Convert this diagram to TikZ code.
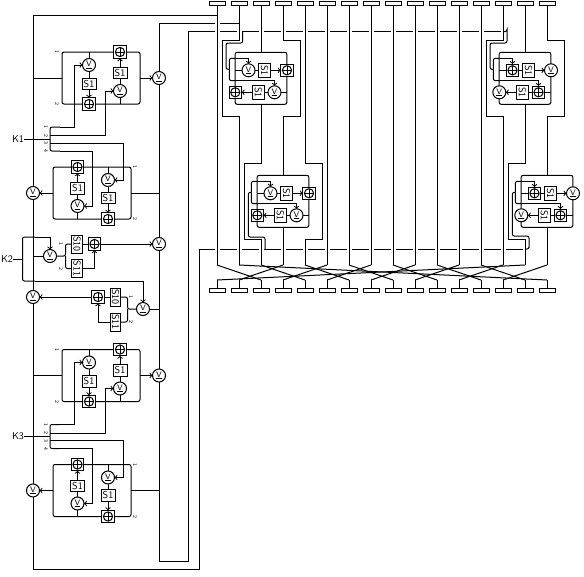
\documentclass[tikz,border=0pt]{standalone}
\usepackage{amsmath}
\usetikzlibrary{positioning}
\tikzset{
    orop/.style={circle,draw,fill=white,minimum size=13pt,inner sep=0pt,outer sep=0pt,
        label={[inner sep=0pt,font=\sffamily\fontsize{8}{8}\selectfont]center:\underline{V}}},
    addbox/.style={draw,fill=white,minimum size=12.5pt,inner sep=0pt,outer sep=0pt,
        path picture={
            \draw (path picture bounding box.center) circle (4.6pt);
            \draw ([xshift=-4.6pt]path picture bounding box.center) -- ([xshift=4.6pt]path picture bounding box.center);
            \draw ([yshift=-4.6pt]path picture bounding box.center) -- ([yshift=4.6pt]path picture bounding box.center);
        }},
    sbox/.style={draw,fill=white,minimum width=14pt,minimum height=11.5pt,inner sep=0pt,outer sep=0pt,
        font=\sffamily\fontsize{10}{10}\selectfont},
    sboxr/.style={sbox,rotate=-90},
    sboxl/.style={sbox,minimum width=18pt,minimum height=10.5pt,rotate=-90},
    railbox/.style={draw,rounded corners=2pt,inner sep=0pt,outer sep=0pt},
    termbar/.style={draw,fill=white,minimum width=16pt,minimum height=3.5pt,inner sep=0pt,outer sep=0pt},
    keytext/.style={inner sep=0pt,font=\sffamily\fontsize{10}{10}\selectfont},
    pintext/.style={inner sep=0pt,rotate=-90,font=\sffamily\fontsize{5.5}{5.5}\selectfont},
    roundwire/.style={rounded corners=2pt},
}
\begin{document}
\begin{tikzpicture}[x=1pt,y=-1pt,line width=1pt]
    \useasboundingbox (0,0) rectangle (584,576);
    % long trunks, broken where the byte lines cross them
    \coordinate (tr0) at (217,15);
    \coordinate (tr1) at (239,23.5);
    \coordinate (tr2) at (507,31.5);
    \coordinate (tr3) at (529,249);
    \draw (tr0) -| (33,569) -| (199,249) -- (525,249);
    \draw (tr1) -| (159,561.6) -| (188.5,31.5) -- (503,31.5);
    \foreach \i in {0,1,...,13}{\fill[white] (214.5+22*\i,30) rectangle +(5,3);}
    \foreach \i in {0,1,...,14}{\fill[white] (214.5+22*\i,247.5) rectangle +(5,3);}
    \fill[white] (214.5,22) rectangle +(5,3);

    \foreach \i in {0,1,...,15}{
        \node[termbar] (t\i) at (217+22*\i,3.5) {};
        \node[termbar] (b\i) at (217+22*\i,290.5) {};
        \coordinate (m\i) at (217+22*\i,265);
        \coordinate (n\i) at (217+22*\i,280);
        \draw (n\i) -- (b\i.north);
    }
    \foreach \i in {5,...,12}{\draw (t\i.south) -- (m\i);}
    \foreach \i/\j in {0/2,2/4,4/6,6/8,8/10,10/12,12/14,3/1,5/3,7/5,9/7,11/9,13/11,15/13,1/15,14/0}{
        \draw (m\i) -- (n\j);
    }

    % small round functions among the byte lines
    \foreach \n/\cx/\cy/\fa/\fb in {a/261/52.3/orop/addbox,b/283/175.3/orop/addbox,c/525/52.3/addbox/orop,d/547/175.3/addbox/orop}{
        \node[railbox,minimum width=51.7pt,minimum height=52pt] (\n rail) at (\cx,\cy+26) {};
        \coordinate (\n br) at (\cx-31.7,\cy+17);
        \coordinate (\n ka) at (\cx-24,\cy+6);
        \coordinate (\n kb) at (\cx-24,\cy+28.4);
        \node[\fa] (\n ga) at (\cx-12.5,\cy+18) {};
        \node[sboxr] (\n sa) at (\cx+3.7,\cy+18) {S1};
        \node[\fb] (\n ea) at (\cx+26,\cy+18) {};
        \node[\fa] (\n gb) at (\cx+13.5,\cy+40) {};
        \node[sboxr] (\n sb) at (\cx-2.7,\cy+40) {S1};
        \node[\fb] (\n eb) at (\cx-25.7,\cy+40) {};
        \draw (\n rail.west |- \n ga) -- (\n ga);
        \draw (\n ga) -- (\n sa);
        \draw[->] (\n sa) -- (\n ea);
        \draw (\n rail.east |- \n gb) -- (\n gb);
        \draw (\n gb) -- (\n sb);
        \draw[->] (\n sb) -- (\n eb);
        \draw[roundwire] (\n br) |- (\n ka);
        \draw[roundwire] (\n br) |- (\n kb);
        \draw[->] (\n ka) -| (\n ga.north);
        \draw[->] (\n kb) -| (\n gb.north);
    }

    % routing of the byte lines round them
    \draw (t0.south) -- (m0);
    \draw (t1.south) |- (222.5,40) |- (239,116) -- (m1);
    \draw (t2.south) -- (arail.north);
    \draw (arail.south) |- (244.7,163.3) |- (261,239.3) -- (m2);
    \draw (t3.south) |- (300,40) |- (283,116) -- (brail.north);
    \draw (brail.south) -- (m3);
    \draw (t4.south) |- (322.7,163.3) |- (305,239.3) -- (m4);
    \draw (t13.south) |- (486,40) |- (503,116) -- (m13);
    \draw (t14.south) -- (crail.north);
    \draw (crail.south) |- (508.7,163.3) |- (525,239.3) -- (m14);
    \draw (t15.south) |- (564.7,40) |- (547,116) -- (drail.north);
    \draw (drail.south) -- (m15);

    % key feeds to the small functions
    \draw[roundwire] (242.7,31.5) -- (242.7,43) -- (226,43) |- (abr);
    \draw[roundwire] (265,249) -- (265,237) -- (248.3,237) |- (bbr);
    \draw[roundwire] (503,31.5) -| (tr2) -- (507,43) -- (490,43) |- (cbr);
    \draw[roundwire] (525,249) -| (tr3) -- (529,236) -- (512.3,236) |- (dbr);

    % large rounds on the left
    \foreach \n/\dy/\key in {p/0/K1,q/297.5/K3}{
    \begin{scope}[shift={(0,\dy)}]
        \node[railbox,minimum width=78pt,minimum height=52pt] (\n up) at (101,78) {};
        \node[railbox,minimum width=78pt,minimum height=52pt] (\n lo) at (92,193) {};
        \node[orop] (\n va) at (89,65) {};
        \node[orop] (\n vb) at (120,91) {};
        \node[sbox] (\n sa) at (89,84) {S1};
        \node[sbox] (\n sb) at (120,73) {S1};
        \node[addbox] (\n xa) at (89,104) {};
        \node[addbox] (\n xb) at (120,52) {};
        \node[orop] (\n vr) at (159,78) {};
        \draw (\n va.north) -- (\n va.north |- \n up.north);
        \draw (\n va) -- (\n sa);
        \draw[->] (\n sa) -- (\n xa);
        \draw (\n vb.south) -- (\n vb.south |- \n up.south);
        \draw (\n vb) -- (\n sb);
        \draw[->] (\n sb) -- (\n xb);
        \draw (33,78) -- (\n up.west);
        \draw[->] (\n up.east) -- (\n vr);

        \node[orop] (\n vc) at (108,180) {};
        \node[orop] (\n vd) at (77.5,206) {};
        \node[sbox] (\n sc) at (108,198) {S1};
        \node[sbox] (\n sd) at (77.5,188.5) {S1};
        \node[addbox] (\n xc) at (108,219) {};
        \node[addbox] (\n xd) at (77.5,167) {};
        \node[orop] (\n vl) at (33,193) {};
        \draw (\n vc.north) -- (\n vc.north |- \n lo.north);
        \draw (\n vc) -- (\n sc);
        \draw[->] (\n sc) -- (\n xc);
        \draw (\n vd.south) -- (\n vd.south |- \n lo.south);
        \draw (\n vd) -- (\n sd);
        \draw[->] (\n sd) -- (\n xd);
        \draw (159,193) -- (\n lo.east);
        \draw[->] (\n lo.west) -- (\n vl);

        \node[keytext] (\n key) at (18,139) {\key};
        \coordinate (\n kj) at (50,139);
        \draw (\n key) -- (\n kj);
        \draw[roundwire] (\n kj) |- (60,127);
        \draw[roundwire] (\n kj) |- (60,151);
        \draw[->] (60,127) -- (74,127) |- (\n va.west);
        \draw[->] (50,135.5) -- (105.5,135.5) |- (\n vb.west);
        \draw[->] (50,143) -- (123.5,143) |- (\n vc.east);
        \draw[->] (60,151) -- (92.5,151) |- (\n vd.east);
        \foreach \k/\py in {1/127,2/135.5,3/143,4/151}{
            \node[pintext] (\n pin\k) at (46,\py) {\k};
        }
        \node[pintext] (\n pa) at (57,52) {1};
        \node[pintext] (\n pb) at (57,104) {2};
        \node[pintext] (\n pc) at (135,167) {1};
        \node[pintext] (\n pd) at (135,219) {2};
    \end{scope}
    }

    % middle layer with the second key
    \node[keytext] (kmid) at (7,259) {K2};
    \coordinate (kmidj) at (22.5,259);
    \node[orop] (ui) at (50,256) {};
    \node[sboxl] (us) at (77,244) {S10};
    \node[sboxl] (ut) at (77,268.5) {S11};
    \node[addbox] (ux) at (94.5,244) {};
    \node[orop] (uo) at (159,244) {};
    \node[orop] (li) at (143,309) {};
    \node[sboxl] (ls) at (115.5,297) {S10};
    \node[sboxl] (lt) at (115.5,322) {S11};
    \node[addbox] (lx) at (98,297) {};
    \node[orop] (lo) at (33,297) {};
    \draw (kmid) -- (kmidj);
    \draw[roundwire] (kmidj) |- (35,237);
    \draw[roundwire] (kmidj) |- (35,281);
    \draw[->] (35,237) -| (ui.north);
    \draw[->] (35,281) -| (li.north);
    \draw (33,256) -- (ui);
    \draw[roundwire] (ui) -- (65.5,256) |- (us);
    \draw[roundwire] (65.5,256) |- (ut);
    \draw (us) -- (ux);
    \draw[->] (ut) -| (ux);
    \draw[->] (ux) -- (uo);
    \draw (li) -- (159,309);
    \draw[roundwire] (li) -- (127.5,309) |- (ls);
    \draw[roundwire] (127.5,309) |- (lt);
    \draw (ls) -- (lx);
    \draw[->] (lt) -| (lx);
    \draw[->] (lx) -- (lo);
    \node[pintext] (ua) at (61,244) {1};
    \node[pintext] (ub) at (61,269) {2};
    \node[pintext] (la) at (131,297) {1};
    \node[pintext] (lb) at (131,322) {2};
\end{tikzpicture}
\end{document}
